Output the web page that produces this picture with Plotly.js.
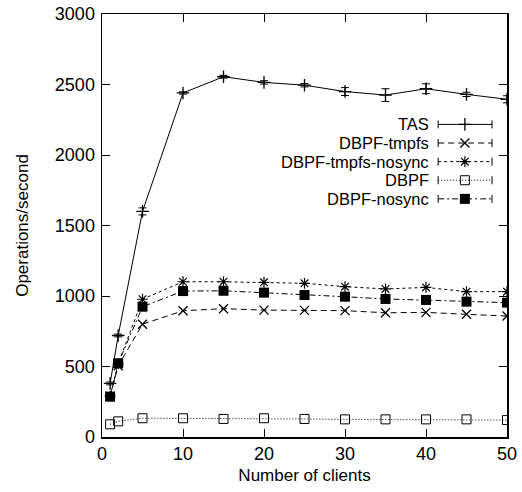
<!DOCTYPE html>
<html>
<head>
<meta charset="utf-8">
<script src="https://cdn.plot.ly/plotly-3.0.1.min.js"></script>
<style>html,body{margin:0;padding:0;background:#fff;}#chart{width:522px;height:492px;}</style>
</head>
<body>
<div id="chart"></div>
<script>
const clients = [1, 2, 5, 10, 15, 20, 25, 30, 35, 40, 45, 50];
const tas = [380, 720, 1600, 2440, 2555, 2515, 2495, 2450, 2425, 2470, 2430, 2395];
const tasErr = [10, 10, 25, 8, 10, 12, 12, 28, 45, 35, 15, 25];
const dbpfTmpfs = [290, 505, 800, 895, 910, 900, 898, 896, 881, 884, 870, 858];
const dbpfTmpfsNosync = [290, 520, 977, 1101, 1101, 1097, 1090, 1066, 1050, 1061, 1031, 1031];
const dbpf = [90, 111, 133, 133, 128, 133, 128, 125, 125, 125, 125, 120];
const dbpfNosync = [286, 523, 924, 1035, 1037, 1024, 1007, 995, 979, 972, 960, 953];
const seriesNames = ["TAS", "DBPF-tmpfs", "DBPF-tmpfs-nosync", "DBPF", "DBPF-nosync"];
const xTickVals = [0, 10, 20, 30, 40, 50];
const yTickVals = [0, 500, 1000, 1500, 2000, 2500, 3000];

const FONT = "Liberation Sans, Arial, sans-serif";
const styles = [
  {dash: "solid", symbol: "cross-thin-open", size: 9, mw: 1.3},
  {dash: "6px,4px", symbol: "x-thin-open", size: 9, mw: 1.3},
  {dash: "3px,3px", symbol: "asterisk-open", size: 9, mw: 1.2},
  {dash: "1px,2px", symbol: "square-open", size: 9, mw: 1},
  {dash: "6px,3px,2px,3px", symbol: "square", size: 10, mw: 0}
];
const values = [tas, dbpfTmpfs, dbpfTmpfsNosync, dbpf, dbpfNosync];

const traces = values.map((v, i) => {
  const t = {
    x: clients, y: v, type: "scatter", mode: "lines+markers", name: seriesNames[i],
    showlegend: false,
    line: {color: "#000", width: 1, dash: styles[i].dash},
    marker: {symbol: styles[i].symbol, size: styles[i].size, color: "#000",
             line: {color: "#000", width: styles[i].mw}}
  };
  if (i === 0) {
    t.error_y = {type: "data", array: tasErr, visible: true, color: "#000", thickness: 1, width: 4};
  }
  return t;
});

// custom gnuplot-style legend (text right, sample to the right)
const legX0 = 0.830, legX1 = 0.963, legXm = 0.896, legTextX = 0.810;
const legRows = [0.739, 0.695, 0.651, 0.607, 0.563];
const annotations = [];
const shapes = [];
const capH = 0.0095;
seriesNames.forEach((n, i) => {
  const yy = legRows[i];
  annotations.push({xref: "paper", yref: "paper", x: legTextX, y: yy, xanchor: "right", yanchor: "middle",
    text: n, showarrow: false, borderpad: 0, font: {family: FONT, size: 16.5, color: "#000"}});
  traces.push({x: [legX0, legX1], y: [yy, yy], xaxis: "x2", yaxis: "y2", mode: "lines", showlegend: false,
    hoverinfo: "skip", line: {color: "#000", width: 1, dash: styles[i].dash}});
  traces.push({x: [legXm], y: [yy], xaxis: "x2", yaxis: "y2", mode: "markers", showlegend: false,
    hoverinfo: "skip", marker: {symbol: styles[i].symbol, size: styles[i].size, color: "#000",
    line: {color: "#000", width: styles[i].mw}}});
  [legX0, legX1].forEach(xx => shapes.push({type: "line", xref: "paper", yref: "paper",
    x0: xx, x1: xx, y0: yy - capH, y1: yy + capH, line: {color: "#000", width: 1}}));
});

const axisCommon = {
  showline: true, linecolor: "#000", linewidth: 1.5, mirror: "ticks",
  ticks: "inside", ticklen: 8, tickwidth: 1, tickcolor: "#000",
  showgrid: false, zeroline: false,
  tickfont: {family: FONT, size: 18, color: "#000"}
};

const layout = {
  width: 522, height: 492,
  margin: {l: 102, r: 15, t: 14, b: 55},
  paper_bgcolor: "#fff", plot_bgcolor: "#fff",
  font: {family: FONT, color: "#000"},
  showlegend: false,
  xaxis: Object.assign({}, axisCommon, {range: [0, 50], tickvals: xTickVals,
    title: {text: "Number of clients", font: {family: FONT, size: 17, color: "#000"}, standoff: 6}}),
  yaxis: Object.assign({}, axisCommon, {range: [0, 3000], tickvals: yTickVals, ticklabelstandoff: 2,
    title: {text: "Operations/second", font: {family: FONT, size: 17, color: "#000"}, standoff: 22}}),
  xaxis2: {overlaying: "x", range: [0, 1], visible: false, fixedrange: true},
  yaxis2: {overlaying: "y", range: [0, 1], visible: false, fixedrange: true},
  annotations: annotations,
  shapes: shapes
};

Plotly.newPlot("chart", traces, layout, {displayModeBar: false, staticPlot: true});
</script>
</body>
</html>
